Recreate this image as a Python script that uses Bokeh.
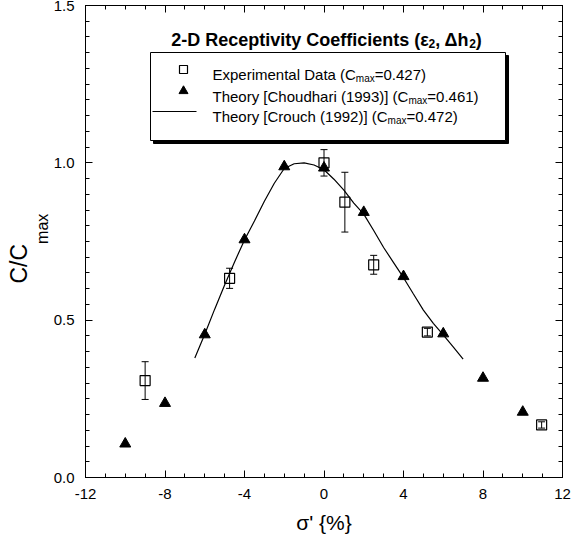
from bokeh.plotting import figure
from bokeh.models import (Range1d, FixedTicker, LinearAxis, Whisker, Title,
                          ColumnDataSource, TeeHead, CustomLabelingPolicy)
from bokeh.core.properties import value
from bokeh.embed import file_html
from bokeh.resources import INLINE

# ---------------- data ----------------
exp_x = [-9.0, -4.75, 0.0, 1.05, 2.5, 5.2, 10.95]
exp_y = [0.308, 0.633, 1.0, 0.875, 0.676, 0.462, 0.167]
exp_err = [0.060, 0.032, 0.042, 0.095, 0.030, 0.012, 0.010]

cho_x = [-10, -8, -6, -4, -2, 0, 2, 4, 6, 8, 10]
cho_y = [0.107, 0.236, 0.454, 0.756, 0.988, 0.984, 0.843, 0.639, 0.457, 0.316, 0.208]

cro_x = [-6.5, -6.0, -5.5, -5.0, -4.5, -4.0, -3.5, -3.0, -2.5, -2.0, -1.5, -1.0,
         -0.5, 0.0, 0.5, 1.0, 1.5, 2.0, 2.5, 3.0, 3.5, 4.0, 4.5, 5.0, 5.5,
         6.0, 6.5, 7.0]
cro_y = [0.380, 0.455, 0.535, 0.612, 0.685, 0.755, 0.815, 0.878, 0.935, 0.982,
         0.997, 1.000, 0.993, 0.978, 0.948, 0.913, 0.872, 0.837, 0.785, 0.731,
         0.683, 0.635, 0.583, 0.532, 0.490, 0.453, 0.415, 0.376]

x_ticks = [-12, -8, -4, 0, 4, 8, 12]
x_tick_labels = ["-12", "-8", "-4", "0", "4", "8", "12"]
y_ticks = [0.0, 0.5, 1.0, 1.5]
y_tick_labels = ["0.0", "0.5", "1.0", "1.5"]

title_main = "2-D Receptivity Coefficients (\u03b5"
title_mid = ", \u0394h"
legend_labels = [("Experimental Data (C", "=0.427)"),
                 ("Theory [Choudhari (1993)] (C", "=0.461)"),
                 ("Theory [Crouch (1992)] (C", "=0.472)")]
x_title = "\u03c3' {%}"
y_title_main, y_title_sub = "C/C", "max"

FONT = "Liberation Sans"

# ---------------- layout helpers ----------------
FL, FT, FW, FH = 85, 5, 477, 472   # frame in screen px


def X(px):
    return -12 + (px - FL) * 24.0 / FW


def Y(py):
    return (FT + FH - py) * 1.5 / FH


REG = {' ': 278, '(': 333, ')': 333, ',': 278, '-': 333, '.': 278, '/': 278,
       '=': 584, '[': 278, ']': 278, '{': 334, '}': 334, '%': 889, "'": 191,
       'C': 722, 'D': 722, 'E': 667, 'T': 611, 'a': 556, 'c': 500, 'd': 556,
       'e': 556, 'h': 556, 'i': 222, 'l': 222, 'm': 833, 'n': 556, 'o': 556,
       'p': 556, 'r': 333, 's': 500, 't': 278, 'u': 556, 'x': 500, 'y': 500,
       '\u03b5': 450, '\u0394': 668}
BOLD = {' ': 278, '(': 333, ')': 333, ',': 278, '-': 333, 'C': 722, 'D': 722,
        'R': 722, 'a': 556, 'c': 556, 'e': 556, 'f': 333, 'h': 611, 'i': 278,
        'n': 611, 'o': 611, 'p': 611, 's': 556, 't': 333, 'v': 556, 'y': 556,
        '\u03b5': 460, '\u0394': 722}


def tw(s, size, bold=False):
    tab = BOLD if bold else REG
    return sum(tab.get(ch, 556) for ch in s) * size / 1000.0


p = figure(width=572, height=541, x_range=Range1d(-12, 12), y_range=Range1d(0, 1.5),
           output_backend="svg", toolbar_location=None,
           min_border_left=FL, min_border_right=572 - FL - FW,
           min_border_top=FT, min_border_bottom=541 - FT - FH)
p.xgrid.visible = False
p.ygrid.visible = False
p.outline_line_color = "black"
p.background_fill_color = "white"
p.border_fill_color = "white"

xt = FixedTicker(ticks=x_ticks, minor_ticks=list(range(-12, 13)))
yt = FixedTicker(ticks=y_ticks, minor_ticks=[i * 0.05 for i in range(31)])

hide_all = CustomLabelingPolicy(
    code="for (let i = 0; i < indices.size; i++) { indices.unset(i) }\nreturn indices")


def style(ax, show):
    ax.major_tick_in = 7
    ax.major_tick_out = 0
    ax.minor_tick_in = 4
    ax.minor_tick_out = 0
    ax.axis_line_color = "black"
    ax.major_tick_line_color = "black"
    ax.minor_tick_line_color = "black"
    ax.major_label_text_font = FONT
    ax.major_label_text_color = "black"
    if show:
        ax.major_label_text_font_size = "15px"
        ax.major_label_standoff = 11
    else:
        ax.major_label_text_font_size = "0px"
        ax.major_label_policy = hide_all
        ax.major_label_standoff = 0


p.xaxis.ticker = xt
p.yaxis.ticker = yt
p.xaxis.major_label_overrides = {t: s for t, s in zip(x_ticks, x_tick_labels)}
p.yaxis.major_label_overrides = {t: s for t, s in zip(y_ticks, y_tick_labels)}
style(p.xaxis[0], True)
style(p.yaxis[0], True)

p.xaxis.axis_label = x_title
p.xaxis.axis_label_text_font = FONT
p.xaxis.axis_label_text_font_style = "normal"
p.xaxis.axis_label_text_font_size = "21px"
p.xaxis.axis_label_text_color = "black"
p.xaxis.axis_label_standoff = 9

top = LinearAxis(ticker=xt)
right = LinearAxis(ticker=yt)
style(top, False)
style(right, False)
p.add_layout(top, "above")
p.add_layout(right, "right")

# y-axis title with a subscript: two rotated titles on the left
ysz, ysub = 23, 16
c_start = 283
p.add_layout(Title(text=y_title_sub, align="left", offset=FT + FH - (c_start - tw(y_title_main, ysz)),
                   text_font=FONT, text_font_style="normal", text_font_size=f"{ysub}px",
                   text_color="black", standoff=0), "left")
p.add_layout(Title(text=y_title_main, align="left", offset=FT + FH - c_start,
                   text_font=FONT, text_font_style="normal", text_font_size=f"{ysz}px",
                   text_color="black", standoff=0), "left")

# ---------------- data marks ----------------
p.line(cro_x, cro_y, line_color="black", line_width=1.2)

src = ColumnDataSource(dict(x=exp_x, y=exp_y,
                            upper=[a + b for a, b in zip(exp_y, exp_err)],
                            lower=[a - b for a, b in zip(exp_y, exp_err)]))
wh = Whisker(source=src, base="x", upper="upper", lower="lower", dimension="height",
             line_color="black", line_width=1,
             upper_head=TeeHead(size=7, line_color="black", line_width=1),
             lower_head=TeeHead(size=7, line_color="black", line_width=1))
p.add_layout(wh)

p.scatter(cho_x, cho_y, marker="triangle", size=11, fill_color="black",
          line_color="black")
p.scatter("x", "y", source=src, marker="square", size=10, fill_color=None,
          line_color="black", line_width=1.2)

# ---------------- title (inside frame) ----------------
tsize, tsub = 18, 12
segs = [(title_main, tsize, 0), ("2", tsub, 4), (title_mid, tsize, 0), ("2", tsub, 4), (")", tsize, 0)]
total = sum(tw(s, sz, True) for s, sz, _ in segs)
cx = 326
xpos = cx - total / 2
base_py = 39
for s, sz, dy in segs:
    p.text(x=[X(xpos)], y=[Y(base_py + dy)], text=[s], text_font=value(FONT),
           text_font_style="bold", text_font_size=f"{sz}px",
           text_baseline="alphabetic", text_align="left", text_color="black")
    xpos += tw(s, sz, True)

# ---------------- legend (drawn manually, for subscripts) ----------------
bl, bt, br, bb = 150, 52, 505, 140
p.quad(left=[X(bl + 3)], right=[X(br + 3)], top=[Y(bt + 3)], bottom=[Y(bb + 3)],
       fill_color="black", line_color="black")
p.quad(left=[X(bl)], right=[X(br)], top=[Y(bt)], bottom=[Y(bb)],
       fill_color="white", line_color="black", line_width=1)

rows_py = [69, 90.5, 111]
mx = 183
p.scatter([X(mx)], [Y(rows_py[0])], marker="square", size=8, fill_color=None,
          line_color="black", line_width=1.2)
p.scatter([X(mx)], [Y(rows_py[1])], marker="triangle", size=9, fill_color="black",
          line_color="black")
p.line([X(152), X(196)], [Y(rows_py[2]), Y(rows_py[2])], line_color="black", line_width=1)

lsize, lsub = 15, 10
for (a, b), ry in zip(legend_labels, rows_py):
    xpos = 212
    for s, sz, dy in [(a, lsize, 0), ("max", lsub, 4), (b, lsize, 0)]:
        p.text(x=[X(xpos)], y=[Y(ry + 5 + dy)], text=[s], text_font=value(FONT),
               text_font_size=f"{sz}px", text_baseline="alphabetic",
               text_align="left", text_color="black")
        xpos += tw(s, sz)

open("out.html", "w").write(file_html(p, INLINE))
